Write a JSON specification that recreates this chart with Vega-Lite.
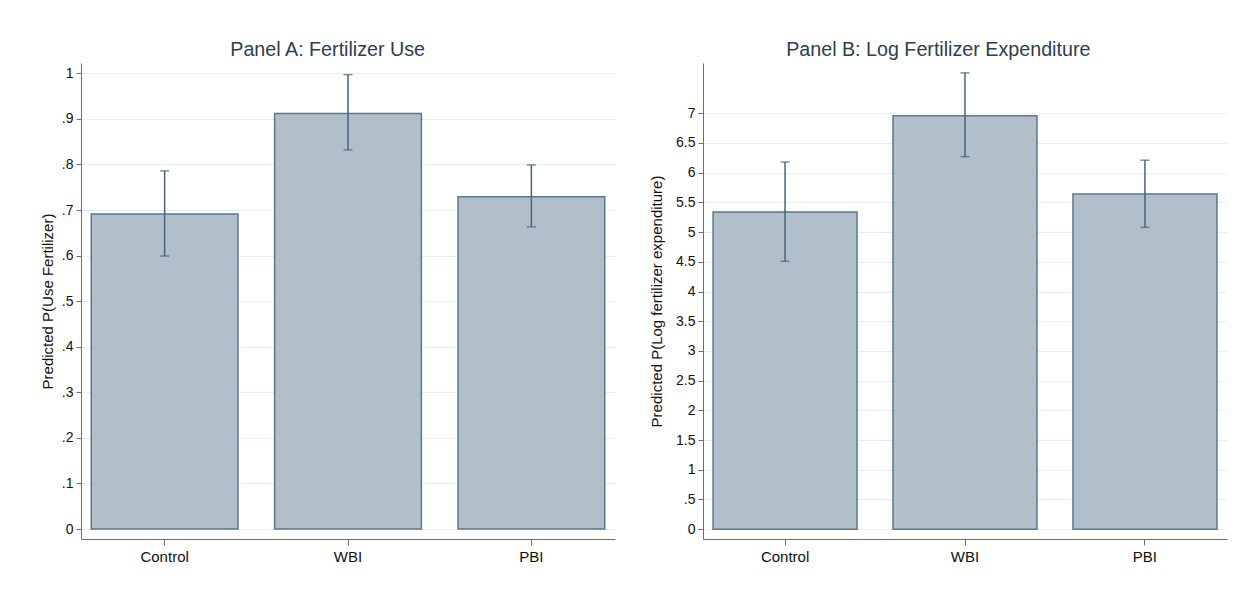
{
  "$schema": "https://vega.github.io/schema/vega-lite/v6.json",
  "background": "white",
  "padding": {"left": 40, "top": 40, "right": 5, "bottom": 5},
  "spacing": 34,
  "config": {
    "font": "Liberation Sans",
    "view": {"stroke": null},
    "title": {"fontSize": 19.7, "fontWeight": "normal", "color": "#2c3e52", "anchor": "middle", "frame": "bounds", "offset": 3},
    "axis": {"domainColor": "#6e6e6e", "tickColor": "#6e6e6e", "labelColor": "#111111", "titleColor": "#111111", "titleFontWeight": "normal", "labelOverlap": false, "labelFlush": false},
    "axisY": {"grid": true, "gridColor": "#e6eef0", "tickSize": 5, "labelFontSize": 14, "titleFontSize": 15, "labelPadding": 3, "titlePadding": 6, "tickCount": 30},
    "axisX": {"grid": false, "tickSize": 6, "labelAngle": 0, "labelFontSize": 15, "labelPadding": 4}
  },
  "datasets": {
    "panelA": [
      {"group": "Control", "value": 0.691, "lo": 0.599, "hi": 0.786},
      {"group": "WBI", "value": 0.912, "lo": 0.832, "hi": 0.997},
      {"group": "PBI", "value": 0.729, "lo": 0.663, "hi": 0.799}
    ],
    "panelB": [
      {"group": "Control", "value": 5.34, "lo": 4.51, "hi": 6.18},
      {"group": "WBI", "value": 6.96, "lo": 6.27, "hi": 7.68},
      {"group": "PBI", "value": 5.64, "lo": 5.08, "hi": 6.21}
    ]
  },
  "hconcat": [
    {
      "title": "Panel A: Fertilizer Use",
      "width": 534,
      "height": 476,
      "data": {"name": "panelA"},
      "encoding": {
        "x": {"field": "group", "type": "nominal", "sort": ["Control", "WBI", "PBI"], "title": null,
              "scale": {"paddingInner": 0.2, "paddingOuter": 0.056}}
      },
      "layer": [
        {
          "mark": {"type": "bar", "fill": "#b1bfca", "stroke": "#5a7890", "strokeWidth": 1.5},
          "encoding": {
            "y": {"field": "value", "type": "quantitative", "title": "Predicted P(Use Fertilizer)",
                  "scale": {"domain": [-0.0219, 1.0226], "nice": false, "zero": false},
                  "axis": {"values": [0, 0.1, 0.2, 0.3, 0.4, 0.5, 0.6, 0.7, 0.8, 0.9, 1], "tickCount": 30,
                           "labelExpr": "datum.value == 0 ? '0' : (datum.value < 1 ? slice(format(datum.value, '.1f'), 1) : '1')"}},
            "y2": {"datum": 0}
          }
        },
        {
          "mark": {"type": "rule", "color": "#46647e", "strokeWidth": 1.5},
          "encoding": {"y": {"field": "lo", "type": "quantitative"}, "y2": {"field": "hi"}}
        },
        {
          "mark": {"type": "tick", "color": "#46647e", "size": 9, "thickness": 1.5},
          "encoding": {"y": {"field": "lo", "type": "quantitative"}}
        },
        {
          "mark": {"type": "tick", "color": "#46647e", "size": 9, "thickness": 1.5},
          "encoding": {"y": {"field": "hi", "type": "quantitative"}}
        }
      ]
    },
    {
      "title": "Panel B: Log Fertilizer Expenditure",
      "width": 524,
      "height": 476,
      "data": {"name": "panelB"},
      "encoding": {
        "x": {"field": "group", "type": "nominal", "sort": ["Control", "WBI", "PBI"], "title": null,
              "scale": {"paddingInner": 0.2, "paddingOuter": 0.056}}
      },
      "layer": [
        {
          "mark": {"type": "bar", "fill": "#b1bfca", "stroke": "#5a7890", "strokeWidth": 1.5},
          "encoding": {
            "y": {"field": "value", "type": "quantitative", "title": "Predicted P(Log fertilizer expenditure)",
                  "scale": {"domain": [-0.165, 7.846], "nice": false, "zero": false},
                  "axis": {"values": [0, 0.5, 1, 1.5, 2, 2.5, 3, 3.5, 4, 4.5, 5, 5.5, 6, 6.5, 7], "tickCount": 30, "titlePadding": 11,
                           "labelExpr": "datum.value == 0 ? '0' : (datum.value < 1 ? '.5' : format(datum.value, '~g'))"}},
            "y2": {"datum": 0}
          }
        },
        {
          "mark": {"type": "rule", "color": "#46647e", "strokeWidth": 1.5},
          "encoding": {"y": {"field": "lo", "type": "quantitative"}, "y2": {"field": "hi"}}
        },
        {
          "mark": {"type": "tick", "color": "#46647e", "size": 9, "thickness": 1.5},
          "encoding": {"y": {"field": "lo", "type": "quantitative"}}
        },
        {
          "mark": {"type": "tick", "color": "#46647e", "size": 9, "thickness": 1.5},
          "encoding": {"y": {"field": "hi", "type": "quantitative"}}
        }
      ]
    }
  ]
}
